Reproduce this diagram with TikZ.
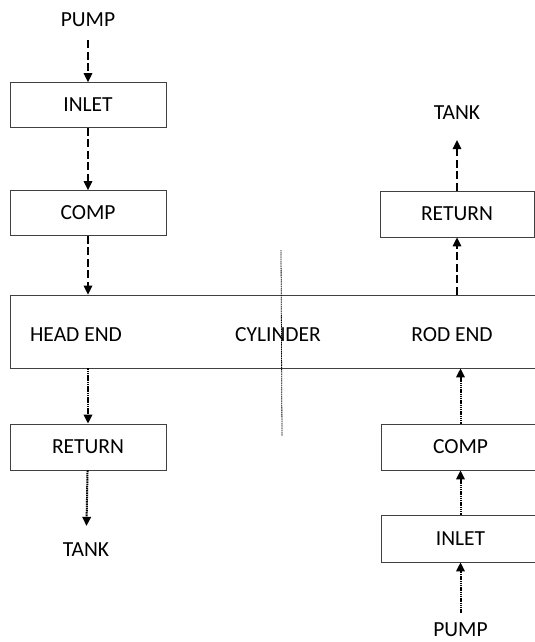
\documentclass[tikz,border=0pt]{standalone}
\usepackage{fontspec}
\setmainfont{Carlito}
\usetikzlibrary{positioning, arrows.meta}
\tikzset{
  lbl/.style={font=\fontsize{21.5}{26}\selectfont, inner sep=0pt},
  blk/.style={lbl, draw=black!75, line width=0.8pt, minimum height=45pt},
  lblk/.style={blk, minimum width=156pt},
  dshflow/.style={-{Triangle[length=9pt, width=8.5pt]}, line width=1.6pt,
                  dash pattern=on 8pt off 3.5pt},
  dotflow/.style={-{Triangle[length=9pt, width=8.5pt]}, line width=2pt,
                  dash pattern=on 1.5pt off 0.7pt},
  axline/.style={line width=0.8pt, dash pattern=on 1.2pt off 0.6pt},
}
\begin{document}
\begin{tikzpicture}[x=1pt, y=-1pt]
  \useasboundingbox (0,0) rectangle (535,642);
  \clip (0,0) rectangle (535,642);
  % left column: supply to head end
  \node[lbl](pumpL) at (88,20){PUMP};
  \node[lblk](inletL) at (88,105){INLET};
  \node[lblk](compL) at (88,213){COMP};
  % cylinder
  \node[blk, minimum width=535pt, minimum height=73pt](cyl) at (277.5,331.5){};
  \node[lbl](head) at (76,335){HEAD END};
  \node[lbl](cylname) at (278,335){CYLINDER};
  \node[lbl](rod) at (452,335){ROD END};
  \coordinate (axtop) at (281,250);
  \coordinate (axbot) at (282,436);
  \draw[axline](axtop)--(axbot);
  % left column: head end to tank
  \node[lblk, minimum height=46pt](returnL) at (88,447){RETURN};
  \node[lbl](tankL) at (86,550){TANK};
  % right column: rod end to tank
  \node[lbl](tankR) at (457,113){TANK};
  \node[blk, minimum width=154pt, minimum height=46pt](returnR) at (457,214){RETURN};
  % right column: supply to rod end
  \node[blk, minimum width=159pt, minimum height=46pt](compR) at (460.5,447){COMP};
  \node[blk, minimum width=159pt, minimum height=47pt](inletR) at (460.5,538.5){INLET};
  \node[lbl](pumpR) at (460.5,630){PUMP};
  \draw[dshflow, shorten <=13pt](pumpL)--(inletL);
  \draw[dshflow](inletL)--(compL);
  \draw[dshflow](compL)--(cyl.north -| compL);
  \draw[dotflow](cyl.south -| returnL)--(returnL);
  \draw[dotflow, shorten >=17pt](returnL)--(tankL);
  \draw[dshflow](cyl.north -| returnR)--(returnR);
  \draw[dshflow, shorten >=20pt](returnR)--(tankR);
  \draw[dotflow, shorten <=10pt](pumpR)--(inletR);
  \draw[dotflow](inletR)--(compR);
  \draw[dotflow](compR)--(cyl.south -| compR);
\end{tikzpicture}
\end{document}
